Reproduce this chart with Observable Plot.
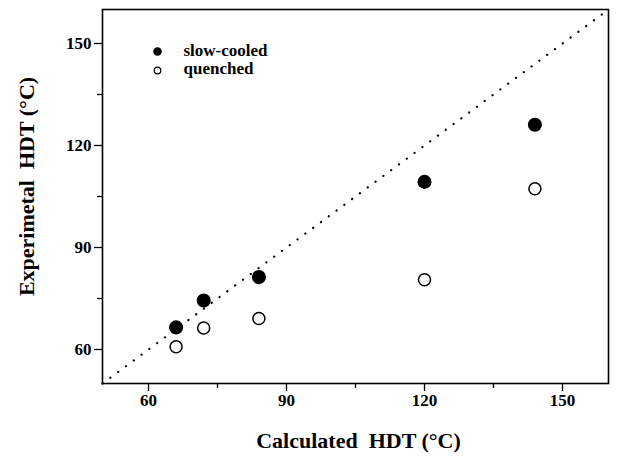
<!DOCTYPE html>
<html>
<head>
<meta charset="utf-8">
<script src="https://cdn.jsdelivr.net/npm/d3@7"></script>
<script src="https://cdn.jsdelivr.net/npm/@observablehq/plot@0.6"></script>
<style>
  html, body { margin: 0; padding: 0; background: #fff; }
</style>
</head>
<body>
<div id="chart"></div>
<script>
// ---- data ----
const calculated = [66, 72, 84, 120, 144];
const slowCooled = [66.5, 74.4, 81.3, 109.3, 126.1];
const quenched = [60.8, 66.3, 69.1, 80.5, 107.3];
const majorTicks = [60, 90, 120, 150];
const minorTicks = [75, 105, 135];
const axisDomain = [50, 160];
const diagonal = [50, 160];
const seriesNames = ["slow-cooled", "quenched"];
const xLabel = "Calculated\u00a0\u00a0HDT (°C)";
const yLabel = "Experimetal\u00a0\u00a0HDT (°C)";

const slowRows = calculated.map((x, i) => ({x, y: slowCooled[i]}));
const quenchRows = calculated.map((x, i) => ({x, y: quenched[i]}));

const font = "'Liberation Serif', 'Times New Roman', serif";

const chart = Plot.plot({
  width: 619,
  height: 466,
  marginLeft: 102,
  marginRight: 11,
  marginTop: 9,
  marginBottom: 83,
  style: {fontFamily: font, fontWeight: "bold", fontSize: "17px", color: "#000", background: "#fff"},
  x: {domain: axisDomain},
  y: {domain: axisDomain},
  marks: [
    Plot.frame({stroke: "#000", strokeWidth: 1.6}),
    Plot.axisX({ticks: majorTicks, tickSize: 8, tickPadding: 2, strokeWidth: 1.3, fontSize: 17, label: null}),
    Plot.axisX({ticks: minorTicks, tickSize: 5, strokeWidth: 1.3, text: null, label: null}),
    Plot.axisY({ticks: majorTicks, tickSize: 8, tickPadding: 3, strokeWidth: 1.3, fontSize: 17, label: null}),
    Plot.axisY({ticks: minorTicks, tickSize: 5, strokeWidth: 1.3, text: null, label: null}),
    Plot.line(diagonal, {x: d => d, y: d => d, stroke: "#000", strokeWidth: 2.2, strokeDasharray: "0.1 9.6", strokeLinecap: "round"}),
    Plot.dot(slowRows, {x: "x", y: "y", r: 6.3, fill: "#000", stroke: "#000"}),
    Plot.dot(quenchRows, {x: "x", y: "y", r: 6, fill: "#fff", stroke: "#000", strokeWidth: 1.5}),
    // legend
    Plot.dot([seriesNames[0]], {frameAnchor: "top-left", dx: 55, dy: 42, r: 4.3, fill: "#000"}),
    Plot.dot([seriesNames[1]], {frameAnchor: "top-left", dx: 55, dy: 61, r: 3.3, fill: "#fff", stroke: "#000", strokeWidth: 1.2}),
    Plot.text([seriesNames[0]], {text: d => d, frameAnchor: "top-left", dx: 81, dy: 41, textAnchor: "start", lineAnchor: "middle", fontSize: 17, fontWeight: "bold"}),
    Plot.text([seriesNames[1]], {text: d => d, frameAnchor: "top-left", dx: 81, dy: 59, textAnchor: "start", lineAnchor: "middle", fontSize: 17, fontWeight: "bold"}),
    // axis titles
    Plot.text([xLabel], {text: d => d, frameAnchor: "bottom", dx: 3, dy: 57, textAnchor: "middle", lineAnchor: "middle", fontSize: 22, fontWeight: "bold"}),
    Plot.text([yLabel], {text: d => d, frameAnchor: "left", dx: -76, dy: -10, rotate: -90, textAnchor: "middle", lineAnchor: "middle", fontSize: 22, fontWeight: "bold"})
  ]
});
document.getElementById("chart").appendChild(chart);
</script>
</body>
</html>
